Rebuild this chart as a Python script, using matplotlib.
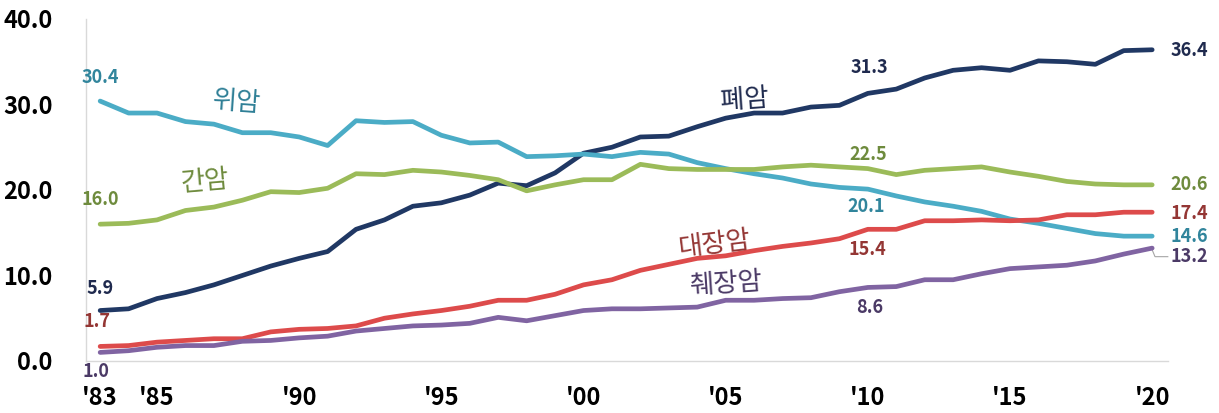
import matplotlib
matplotlib.use('Agg')
import matplotlib.pyplot as plt

plt.rcParams['font.family'] = ['Noto Sans CJK KR', 'DejaVu Sans']

years = list(range(1983, 2021))

lung = [5.9, 6.1, 7.3, 8.0, 8.9, 10.0, 11.1, 12.0, 12.8, 15.4, 16.5, 18.1,
        18.5, 19.4, 20.8, 20.5, 22.0, 24.3, 25.0, 26.2, 26.3, 27.4, 28.4, 29.0,
        29.0, 29.7, 29.9, 31.3, 31.8, 33.1, 34.0, 34.3, 34.0, 35.1, 35.0, 34.7,
        36.3, 36.4]
stomach = [30.4, 29.0, 29.0, 28.0, 27.7, 26.7, 26.7, 26.2, 25.2, 28.1, 27.9, 28.0,
           26.4, 25.5, 25.6, 23.9, 24.0, 24.2, 23.9, 24.4, 24.2, 23.2, 22.5, 21.9,
           21.4, 20.7, 20.3, 20.1, 19.3, 18.6, 18.1, 17.5, 16.6, 16.1, 15.5, 14.9,
           14.6, 14.6]
liver = [16.0, 16.1, 16.5, 17.6, 18.0, 18.8, 19.8, 19.7, 20.2, 21.9, 21.8, 22.3,
         22.1, 21.7, 21.2, 19.9, 20.6, 21.2, 21.2, 23.0, 22.5, 22.4, 22.4, 22.4,
         22.7, 22.9, 22.7, 22.5, 21.8, 22.3, 22.5, 22.7, 22.1, 21.6, 21.0, 20.7,
         20.6, 20.6]
colon = [1.7, 1.8, 2.2, 2.4, 2.6, 2.6, 3.4, 3.7, 3.8, 4.1, 5.0, 5.5,
         5.9, 6.4, 7.1, 7.1, 7.8, 8.9, 9.5, 10.6, 11.3, 12.0, 12.3, 12.9,
         13.4, 13.8, 14.3, 15.4, 15.4, 16.4, 16.4, 16.5, 16.4, 16.5, 17.1, 17.1,
         17.4, 17.4]
pancreas = [1.0, 1.2, 1.6, 1.8, 1.8, 2.3, 2.4, 2.7, 2.9, 3.5, 3.8, 4.1,
            4.2, 4.4, 5.1, 4.7, 5.3, 5.9, 6.1, 6.1, 6.2, 6.3, 7.1, 7.1,
            7.3, 7.4, 8.1, 8.6, 8.7, 9.5, 9.5, 10.2, 10.8, 11.0, 11.2, 11.7,
            12.5, 13.2]

xtick_years = [1983, 1985, 1990, 1995, 2000, 2005, 2010, 2015, 2020]
xtick_labels = ["'83", "'85", "'90", "'95", "'00", "'05", "'10", "'15", "'20"]

# line colour, text colour
series = [
    ('폐암', lung, '#203864', '#1F2A4E'),
    ('위암', stomach, '#4BACC6', '#31859C'),
    ('간암', liver, '#9BBB59', '#6E8B3D'),
    ('대장암', colon, '#DD4B4B', '#943634'),
    ('췌장암', pancreas, '#8064A2', '#4B3A66'),
]

fig = plt.figure(figsize=(12.19, 4.13), dpi=100)
ax = fig.add_axes([0.0705, 0.126, 0.8875, 0.828])

for name, vals, lc, tc in series:
    ax.plot(years, vals, color=lc, lw=3.4, solid_capstyle='round', zorder=3)

ax.set_xlim(1982.5, 2020.55)
ax.set_ylim(0, 40)
ax.set_yticks([0, 10, 20, 30, 40])
ax.set_yticklabels(['0.0', '10.0', '20.0', '30.0', '40.0'], fontsize=17, fontweight='bold')
ax.set_xticks(xtick_years)
ax.set_xticklabels(xtick_labels, fontsize=17, fontweight='bold')
ax.tick_params(axis='x', length=0, pad=18)
ax.tick_params(axis='y', length=0, pad=24)
for s in ['top', 'right']:
    ax.spines[s].set_visible(False)
for s in ['left', 'bottom']:
    ax.spines[s].set_color('#D9D9D9')
    ax.spines[s].set_linewidth(1.0)

fs = 13
def vlabel(tc, txt, x, y, ha='center'):
    ax.text(x, y, txt, color=tc, fontsize=fs, fontweight='bold', ha=ha, va='center', clip_on=False)

c = {n: tc for n, _, _, tc in series}
vlabel(c['폐암'], '5.9', 1983, 8.5)
vlabel(c['폐암'], '31.3', 2010.05, 34.3)
vlabel(c['폐암'], '36.4', 2020.65, 36.3, 'left')
vlabel(c['위암'], '30.4', 1983, 33.2)
vlabel(c['위암'], '20.1', 2009.95, 18.1)
vlabel(c['위암'], '14.6', 2020.65, 14.6, 'left')
vlabel(c['간암'], '16.0', 1983, 18.9)
vlabel(c['간암'], '22.5', 2010.0, 24.2)
vlabel(c['간암'], '20.6', 2020.65, 20.6, 'left')
vlabel(c['대장암'], '1.7', 1982.9, 4.6)
vlabel(c['대장암'], '15.4', 2010.0, 13.0)
vlabel(c['대장암'], '17.4', 2020.65, 17.3, 'left')
vlabel(c['췌장암'], '1.0', 1982.85, -1.2)
vlabel(c['췌장암'], '8.6', 2010.05, 6.3)
vlabel(c['췌장암'], '13.2', 2020.65, 12.2, 'left')
ax.plot([2020.0, 2020.1, 2020.55], [13.0, 12.2, 12.2], color='#A6A6A6', lw=0.8, clip_on=False)

# series names
nfs = 19
ax.text(1987.8, 30.3, '위암', color='#2E7F96', fontsize=nfs, ha='center', va='center', rotation=-4)
ax.text(1986.7, 21.0, '간암', color='#6E8B3D', fontsize=nfs, ha='center', va='center', rotation=5)
ax.text(2005.65, 30.6, '폐암', color='#1F2A4E', fontsize=nfs, ha='center', va='center', rotation=4)
ax.text(2004.6, 13.7, '대장암', color='#943634', fontsize=nfs, ha='center', va='center', rotation=7)
ax.text(2005.0, 9.0, '췌장암', color='#4B3A66', fontsize=nfs, ha='center', va='center', rotation=4)

fig.savefig('out.png', dpi=100)
